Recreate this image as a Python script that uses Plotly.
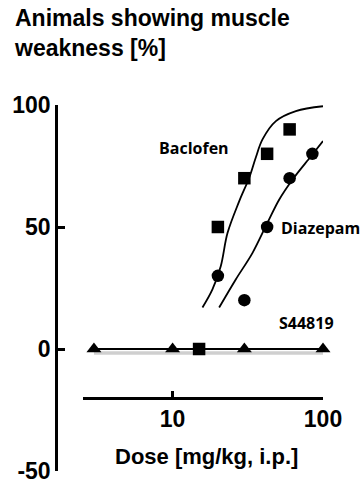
import plotly.graph_objects as go

# ---- data ----
bac_dose = [15, 20, 30, 42.5, 60]
bac_resp = [0, 50, 70, 80, 90]
dia_dose = [20, 30, 42.5, 60, 85]
dia_resp = [30, 20, 50, 70, 80]
s44_dose = [3, 10, 30, 100]
s44_resp = [0, 0, 0, 0]
s44_band = [-1.6, -1.6, -1.6, -1.6]

bac_fit_dose = [15.8, 18.4, 20.9, 23.2, 27.7, 32.3, 35.7, 39.6, 48.6, 66, 100]
bac_fit_resp = [17, 24.4, 33.9, 47.6, 60.5, 70.2, 78.4, 85.9, 93.4, 97.5, 99.5]
dia_fit_dose = [20.4, 26.3, 34, 42.7, 51.2, 62.8, 83.2, 100]
dia_fit_resp = [17, 28.5, 39.4, 51.7, 61.3, 69.5, 79, 85.2]

y_ticks = [-50, 0, 50, 100]
y_ticktext = ["-50", "0", "50", "100"]
x_ticks = [10, 100]
x_ticktext = ["10", "100"]

AR = "Liberation Sans, Arial, sans-serif"
OS = "Open Sans, sans-serif"

fig = go.Figure()

# displayed dose axis lives on x2/y2 (drawn first, underneath the data)
fig.add_trace(go.Scatter(x=[], y=[], xaxis="x2", yaxis="y2", showlegend=False,
                         hoverinfo="skip"))
fig.add_trace(go.Scatter(x=s44_dose, y=s44_band, mode="lines",
                         line=dict(color="#cfcfcf", width=3.5),
                         hoverinfo="skip", cliponaxis=False))
fig.add_trace(go.Scatter(x=s44_dose, y=s44_resp, mode="lines+markers",
                         line=dict(color="black", width=2),
                         marker=dict(symbol="triangle-up", size=13, color="black"),
                         cliponaxis=False, name="S44819"))
fig.add_trace(go.Scatter(x=bac_fit_dose, y=bac_fit_resp, mode="lines",
                         line=dict(color="black", width=1.8, shape="spline"),
                         cliponaxis=False))
fig.add_trace(go.Scatter(x=dia_fit_dose, y=dia_fit_resp, mode="lines",
                         line=dict(color="black", width=1.8, shape="spline"),
                         cliponaxis=False))
fig.add_trace(go.Scatter(x=bac_dose, y=bac_resp, mode="markers",
                         marker=dict(symbol="square", size=12.5, color="black"),
                         cliponaxis=False, name="Baclofen"))
fig.add_trace(go.Scatter(x=dia_dose, y=dia_resp, mode="markers",
                         marker=dict(symbol="circle", size=12.5, color="black"),
                         cliponaxis=False, name="Diazepam"))

fig.update_layout(
    width=361, height=483,
    margin=dict(l=58, r=38, t=105, b=12),
    paper_bgcolor="white", plot_bgcolor="rgba(0,0,0,0)",
    showlegend=False,
    xaxis=dict(type="log", range=[0.238, 2.0], domain=[0, 1],
               showline=False, showticklabels=False, ticks="",
               showgrid=False, zeroline=False),
    yaxis=dict(range=[-50, 100], anchor="x", automargin=False,
               showline=True, linewidth=2.5, linecolor="black",
               ticks="inside", ticklen=7, tickwidth=2.5, tickcolor="black",
               tickvals=y_ticks, ticktext=y_ticktext, ticklabeloverflow="allow",
               tickfont=dict(family=AR, size=23, color="black", weight="bold"),
               showgrid=False, zeroline=False),
    xaxis2=dict(type="log", range=[0.4043, 2.0], domain=[0.0943, 1],
                anchor="y2", automargin=False,
                showline=True, linewidth=2.5, linecolor="black",
                ticks="inside", ticklen=6, tickwidth=2.5, tickcolor="black",
                tickvals=x_ticks, ticktext=x_ticktext,
                tickfont=dict(family=AR, size=23, color="black", weight="bold"),
                ticklabelstandoff=0, ticklabeloverflow="allow",
                showgrid=False, zeroline=False),
    yaxis2=dict(domain=[0.203, 1], anchor="x2", range=[0, 1],
                showline=False, showticklabels=False, ticks="",
                showgrid=False, zeroline=False),
)

fig.add_annotation(text="Animals showing muscle<br>weakness [%]",
                   xref="paper", yref="paper", x=-0.175, y=1.279,
                   xanchor="left", yanchor="top", align="left", showarrow=False,
                   font=dict(family=AR, size=23, color="black", weight="bold"))
fig.add_annotation(text="Dose [mg/kg, i.p.]",
                   xref="paper", yref="paper", x=0.56, y=0.04,
                   xanchor="center", yanchor="middle", showarrow=False,
                   font=dict(family=AR, size=22, color="black", weight="bold"))
fig.add_annotation(text="Baclofen", xref="x", yref="y", x=0.898, y=82.2,
                   xanchor="left", yanchor="middle", showarrow=False,
                   font=dict(family=OS, size=16, color="black", weight="bold"))
fig.add_annotation(text="Diazepam", xref="x", yref="y", x=1.709, y=49.4,
                   xanchor="left", yanchor="middle", showarrow=False,
                   font=dict(family=OS, size=16, color="black", weight="bold"))
fig.add_annotation(text="S44819", xref="x", yref="y", x=1.697, y=10.7,
                   xanchor="left", yanchor="middle", showarrow=False,
                   font=dict(family=OS, size=16, color="black", weight="bold"))

fig.write_html("out.html")
